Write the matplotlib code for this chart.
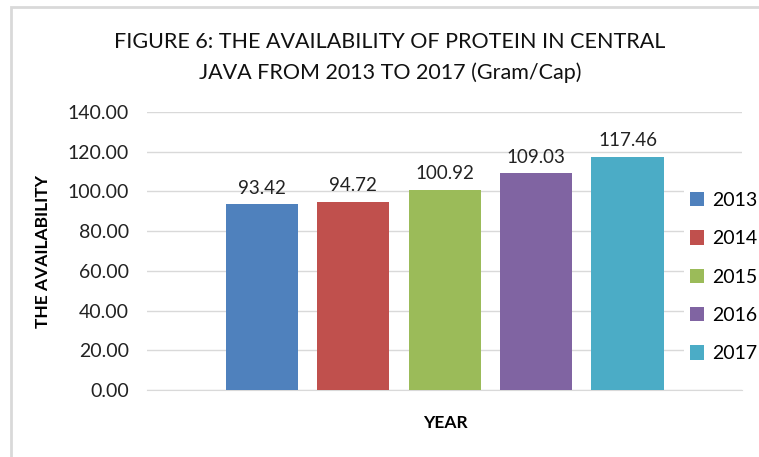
import matplotlib.pyplot as plt
from matplotlib.patches import Rectangle

# 資料
years = ["2013", "2014", "2015", "2016", "2017"]
protein = [93.42, 94.72, 100.92, 109.03, 117.46]
colors = ["#4F81BD", "#C0504D", "#9BBB59", "#8064A2", "#4BACC6"]
yticks = [0, 20, 40, 60, 80, 100, 120, 140]

plt.rcParams['font.family'] = ['Lato', 'DejaVu Sans']

W, H = 759, 457
fig = plt.figure(figsize=(W / 100, H / 100), dpi=100)

# 外框
fig.patches.append(Rectangle((11 / W, -0.01), 1.0, 1 - 7 / H + 0.01, transform=fig.transFigure,
                             fill=False, edgecolor="#d9d9d9", linewidth=2))

ax = fig.add_axes([147 / W, 1 - 390 / H, (742 - 147) / W, (390 - 112) / H])

for i, (yr, v, c) in enumerate(zip(years, protein, colors)):
    ax.bar(i, v, width=0.79, color=c, label=yr, zorder=3)
    ax.text(i, v + 4, f"{v:.2f}", ha="center", va="bottom", fontsize=13.5, color="#222222")

ax.set_xlim(-1.258, 5.253)
ax.set_ylim(0, 140)
ax.set_yticks(yticks)
ax.set_yticklabels([f"{t:.2f}" for t in yticks], fontsize=14, color="#222222")
ax.set_xticks([])
ax.tick_params(axis="y", length=0, pad=13)
ax.grid(axis="y", color="#d9d9d9", linewidth=1, zorder=0)
for s in ["top", "right", "left"]:
    ax.spines[s].set_visible(False)
ax.spines["bottom"].set_color("#d9d9d9")

ax.set_ylabel("THE AVAILABILITY", fontsize=12.5, fontweight="bold", labelpad=12)
fig.text(445 / W, 1 - 423 / H, "YEAR", ha="center", va="center", fontsize=12.5, fontweight="bold")

fig.text(390 / W, 1 - 42 / H, "FIGURE 6: THE AVAILABILITY OF PROTEIN IN CENTRAL",
         ha="center", va="center", fontsize=15.5, color="#111111")
fig.text(390 / W, 1 - 73 / H, "JAVA FROM 2013 TO 2017 (Gram/Cap)",
         ha="center", va="center", fontsize=15.5, color="#111111")

leg = ax.legend(loc="upper left", bbox_to_anchor=(684 / W, 1 - 186 / H), bbox_transform=fig.transFigure,
                fontsize=14, frameon=True, handlelength=0.75, handleheight=0.75, handletextpad=0.4,
                labelspacing=1.1, borderpad=0.3, borderaxespad=0)
leg.get_frame().set_facecolor("white")
leg.get_frame().set_edgecolor("none")
leg.get_frame().set_alpha(1)

fig.savefig("out.png", dpi=100)
